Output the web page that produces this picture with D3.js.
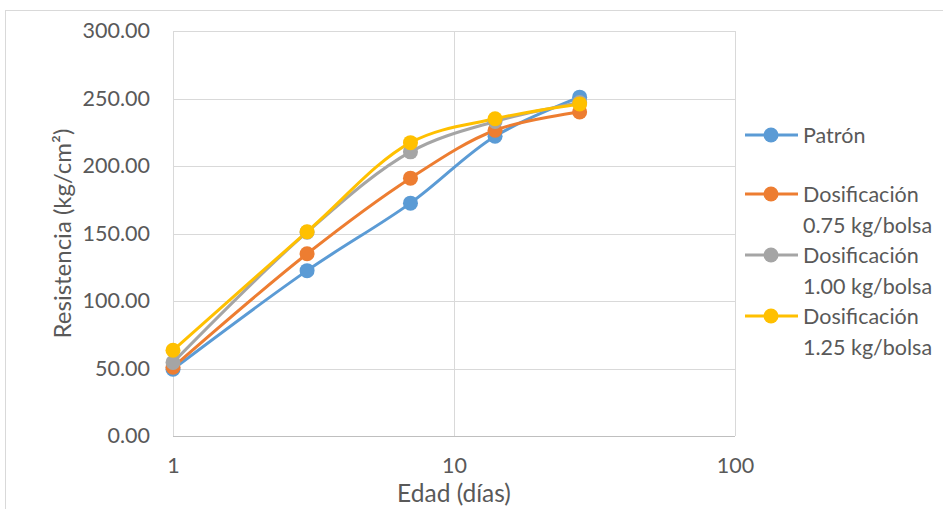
<!DOCTYPE html>
<html><head><meta charset="utf-8">
<script src="https://cdn.jsdelivr.net/npm/d3@7"></script>
<style>body{margin:0;background:#fff}svg{display:block}text{font-family:Lato,"Open Sans",sans-serif;fill:#595959}</style>
</head><body>
<script>
const days = [1, 3, 7, 14, 28];
const patron = [49.5, 122.5, 172.5, 222, 251];
const dos075 = [51, 135, 191, 226.5, 240];
const dos100 = [54.5, 151, 210.5, 233, 247];
const dos125 = [63.5, 151.3, 217.3, 235, 246];
const seriesNames = [["Patrón"], ["Dosificación", "0.75 kg/bolsa"], ["Dosificación", "1.00 kg/bolsa"], ["Dosificación", "1.25 kg/bolsa"]];
const colors = ["#5B9BD5", "#ED7D31", "#A5A5A5", "#FFC000"];
const yTicks = [0, 50, 100, 150, 200, 250, 300];
const xTicks = [1, 10, 100];

const W = 943, H = 509;
const m = {l: 173, r: 735, t: 31, b: 436};
const svg = d3.select("body").append("svg").attr("width", W).attr("height", H);
svg.append("rect").attr("x", 5.5).attr("y", 10.5).attr("width", 1000).attr("height", 600)
  .attr("fill", "none").attr("stroke", "#d9d9d9");

const x = d3.scaleLog().domain([1, 100]).range([m.l, m.r]);
const y = d3.scaleLinear().domain([0, 300]).range([m.b, m.t]);

// gridlines
svg.append("g").selectAll("line").data(yTicks).join("line")
  .attr("x1", m.l).attr("x2", m.r).attr("y1", d => Math.round(y(d)) + 0.5).attr("y2", d => Math.round(y(d)) + 0.5)
  .attr("stroke", "#d9d9d9").attr("stroke-width", 1);
svg.append("g").selectAll("line").data(xTicks).join("line")
  .attr("x1", d => Math.round(x(d)) + 0.5).attr("x2", d => Math.round(x(d)) + 0.5).attr("y1", m.t).attr("y2", m.b)
  .attr("stroke", "#d9d9d9").attr("stroke-width", 1);
svg.append("line").attr("x1", m.l).attr("x2", m.r).attr("y1", m.b + 0.5).attr("y2", m.b + 0.5).attr("stroke", "#bfbfbf");

// axes labels
const yAxis = d3.axisLeft(y).tickValues(yTicks).tickFormat(d3.format(".2f")).tickSize(0).tickPadding(23);
const gy = svg.append("g").attr("transform", `translate(${m.l},0)`).call(yAxis);
gy.select(".domain").remove();
gy.selectAll("text").style("font-size", "21.5px").attr("fill", "#595959");

const xAxis = d3.axisBottom(x).tickValues(xTicks).tickFormat(d3.format("d")).tickSize(0).tickPadding(22);
const gx = svg.append("g").attr("transform", `translate(0,${m.b})`).call(xAxis);
gx.select(".domain").remove();
gx.selectAll("text").style("font-size", "21.5px").attr("fill", "#595959");

svg.append("text").attr("x", (m.l + m.r) / 2 + 0).attr("y", 502).attr("text-anchor", "middle")
  .style("font-size", "24.5px").text("Edad (días)");
svg.append("text").attr("transform", `translate(71,${(m.t + m.b) / 2}) rotate(-90)`).attr("text-anchor", "middle")
  .style("font-size", "24px").text("Resistencia (kg/cm²)");

const all = [patron, dos075, dos100, dos125];
const line = d3.line().x((d, i) => x(days[i])).y(d => y(d)).curve(d3.curveCatmullRom.alpha(0.5));
all.forEach((s, k) => {
  svg.append("path").attr("d", line(s)).attr("fill", "none").attr("stroke", colors[k]).attr("stroke-width", 3);
});
all.forEach((s, k) => {
  svg.append("g").selectAll("circle").data(s).join("circle")
    .attr("cx", (d, i) => x(days[i])).attr("cy", d => y(d)).attr("r", 7.5).attr("fill", colors[k]);
});

// legend
const legY = [135, 194, 255, 316];
seriesNames.forEach((lines, k) => {
  const g = svg.append("g");
  g.append("line").attr("x1", 745).attr("x2", 798).attr("y1", legY[k]).attr("y2", legY[k])
    .attr("stroke", colors[k]).attr("stroke-width", 3);
  g.append("circle").attr("cx", 771).attr("cy", legY[k]).attr("r", 7.5).attr("fill", colors[k]);
  lines.forEach((t, j) => {
    g.append("text").attr("x", 803).attr("y", legY[k] + 7.5 + j * 31).style("font-size", "21.5px").text(t);
  });
});
</script>
</body></html>
